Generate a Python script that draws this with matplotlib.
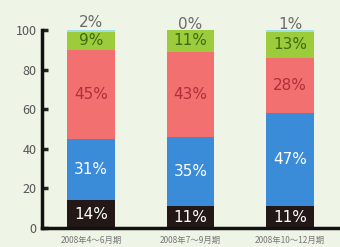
import numpy as np
import matplotlib.pyplot as plt

plt.rcParams['font.family'] = ['Noto Sans CJK JP', 'DejaVu Sans']

periods = ['2008年4～6月期', '2008年7～9月期', '2008年10～12月期']
dark = [14, 11, 11]
blue = [31, 35, 47]
red = [45, 43, 28]
green = [9, 11, 13]
cyan = [2, 0, 1]

series = [dark, blue, red, green]
colors = ['#231816', '#3a8bd8', '#f27070', '#9ccc3c']
text_colors = ['white', 'white', '#b03038', '#3d6a10']

bg = '#eef4e6'
fig = plt.figure(figsize=(3.4, 2.47), dpi=100, facecolor=bg)
ax = fig.add_axes([0.124, 0.077, 0.876, 0.802], facecolor=bg)

x = np.arange(len(periods))
bottom = np.zeros(len(periods))
for vals, c, tc in zip(series, colors, text_colors):
    vals = np.array(vals)
    ax.bar(x, vals, 0.48, bottom=bottom, color=c, linewidth=0)
    for xi, b, v in zip(x, bottom, vals):
        ax.text(xi, b + v / 2, f'{v}%', ha='center', va='center',
                color=tc, fontsize=11, family='DejaVu Sans')
    bottom = bottom + vals
ax.bar(x, cyan, 0.48, bottom=bottom, color='#9fe0e8', linewidth=0)
for xi, b, v in zip(x, bottom, cyan):
    ax.text(xi, b + v - 1, f'{v}%', ha='center', va='bottom',
            color='#6a6a6a', fontsize=11, family='DejaVu Sans')

ax.set_xlim(-0.49, 2.5)
ax.set_ylim(0, 100)
ax.set_yticks([0, 20, 40, 60, 80, 100])
ax.set_xticks(x)
ax.set_xticklabels(periods, fontsize=6, color='#777777')
ax.tick_params(axis='x', length=0, pad=6)
ax.tick_params(axis='y', direction='in', length=4, width=2.5,
               labelsize=9, colors='#222222', labelcolor='#555555', pad=4)
for s in ['top', 'right']:
    ax.spines[s].set_visible(False)
for s in ['left', 'bottom']:
    ax.spines[s].set_linewidth(2.5)
    ax.spines[s].set_color('#111111')

fig.savefig('out.png', dpi=100, facecolor=bg)
